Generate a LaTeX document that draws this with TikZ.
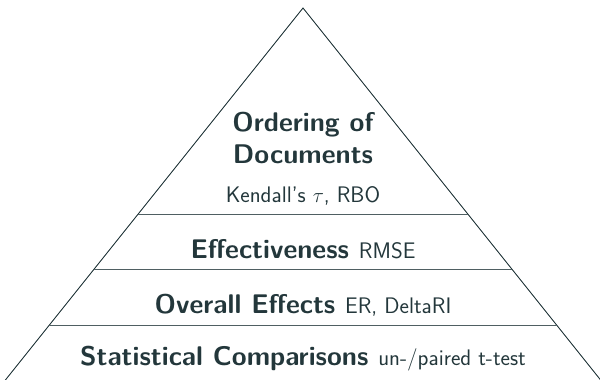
\documentclass[tikz,border=0pt]{standalone}
\usetikzlibrary{calc}
\definecolor{slate}{HTML}{23373B}
\newcommand\headfont{\sffamily\bfseries\fontsize{27}{30}\selectfont}
\newcommand\notefont{\sffamily\mdseries\fontsize{22.5}{26}\selectfont}
\begin{document}
\begin{tikzpicture}[x=1pt,y=-1pt,
  edge/.style={draw=slate,line width=0.9pt},
  level/.style={draw=slate!80,line width=0.9pt},
  label/.style={text=slate,anchor=base,inner sep=0pt,align=center}]
\useasboundingbox (0,0) rectangle (600,380);
\clip (0,0) rectangle (600,380);
% pyramid outline
\coordinate (apex) at (303,8);
\coordinate (bl) at (-10.6,400);
\coordinate (br) at (616.6,400);
\draw[edge,line join=miter] (bl) -- (apex) -- (br);
% level separators
\coordinate (l1a) at (138.2,214); \coordinate (l1b) at (467.8,214);
\coordinate (l2a) at (94.2,269);  \coordinate (l2b) at (511.8,269);
\coordinate (l3a) at (49.4,325);  \coordinate (l3b) at (556.6,325);
\draw[level] (l1a) -- (l1b);
\draw[level] (l2a) -- (l2b);
\draw[level] (l3a) -- (l3b);
% labels
\node[label] (ord1) at (303,131) {\headfont Ordering of};
\node[label] (ord2) at (303,163) {\headfont Documents};
\node[label] (ordm) at (303,202) {\notefont Kendall's $\tau$, RBO};
\node[label] (eff)  at (303,258) {\headfont Effectiveness \notefont RMSE};
\node[label] (ovr)  at (303,313) {\headfont Overall Effects \notefont ER, DeltaRI};
\node[label] (stat) at (303,365) {\headfont Statistical Comparisons \notefont un-/paired t-test};
\end{tikzpicture}
\end{document}
